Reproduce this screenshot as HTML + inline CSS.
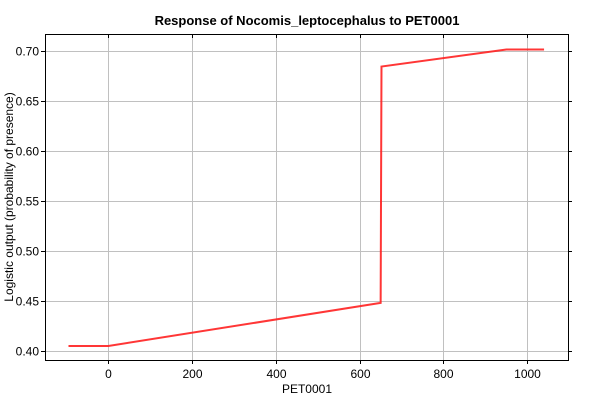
<!DOCTYPE html>
<html><head><meta charset="utf-8"><style>
body{margin:0;background:#fff;}
svg{font-family:"Liberation Sans",sans-serif;}
</style></head><body>
<svg width="600" height="400" id="c">
<rect width="600" height="400" fill="#fff"/>
<text x="307" y="25" font-size="13" font-weight="bold" text-anchor="middle">Response of Nocomis_leptocephalus to PET0001</text>
<g id="grid"></g>
<g id="ticks"></g>
<rect x="45.5" y="34.5" width="523" height="326" fill="none" stroke="#000" stroke-width="1"/>
<text x="307" y="393" font-size="12" text-anchor="middle">PET0001</text>
<text transform="translate(13,197) rotate(-90)" font-size="12" text-anchor="middle">Logistic output (probability of presence)</text>
<polyline id="line" fill="none" stroke="#ff2020" stroke-width="2" stroke-opacity="0.9"/>
</svg>
<script>
const xVals=[-95,0,650,652,950,1040];
const yVals=[0.405,0.405,0.448,0.684,0.701,0.701];
const xTicks=[0,200,400,600,800,1000];
const yTicks=[0.40,0.45,0.50,0.55,0.60,0.65,0.70];
function sx(v){return 108.3+v*(527.3-108.3)/1000;}
function sy(v){return 351-(v-0.40)*(351-50.5)/0.30;}
const ns="http://www.w3.org/2000/svg";
const g=document.getElementById('grid'),t=document.getElementById('ticks');
function mk(tag,a,p){const e=document.createElementNS(ns,tag);for(const k in a)e.setAttribute(k,a[k]);p.appendChild(e);return e;}
xTicks.forEach(v=>{const x=Math.round(sx(v))+0.5;
const l=mk('line',{x1:x,x2:x,y1:34,y2:360,stroke:'#c0c0c0'},g);


mk('line',{x1:x,x2:x,y1:360,y2:364,stroke:'#000'},t);
const tx=mk('text',{x:x,y:378,'font-size':12,'text-anchor':'middle'},t);tx.textContent=v;


mk('line',{x1:x,x2:x,y1:34,y2:38,stroke:'#000'},t);});
yTicks.forEach(v=>{const y=Math.round(sy(v))+0.5;
const l=mk('line',{x1:45,x2:568,y1:y,y2:y,stroke:'#c0c0c0'},g);


mk('line',{x1:41,x2:45,y1:y,y2:y,stroke:'#000'},t);
mk('line',{x1:568,x2:572,y1:y,y2:y,stroke:'#000'},t);
const tx=mk('text',{x:39,y:y+4,'font-size':12,'text-anchor':'end'},t);tx.textContent=v.toFixed(2);

});
document.getElementById('line').setAttribute('points',xVals.map((v,i)=>sx(v)+','+sy(yVals[i])).join(' '));
</script>
</body></html>
